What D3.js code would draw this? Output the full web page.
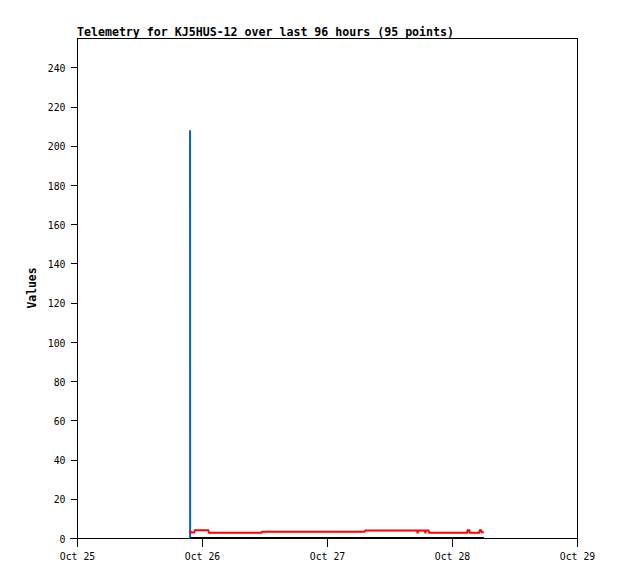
<!DOCTYPE html>
<html>
<head>
<meta charset="utf-8">
<style>
  body { margin: 0; background: #fff; }
  text { font-family: "DejaVu Sans Mono", "Liberation Mono", monospace; }
</style>
</head>
<body>
<svg id="chart" width="618" height="579"></svg>
<script src="https://d3js.org/d3.v7.min.js"></script>
<script>
    // hours since Oct 25 00:00
    const title = "Telemetry for KJ5HUS-12 over last 96 hours (95 points)";
    const yTicks = [0, 20, 40, 60, 80, 100, 120, 140, 160, 180, 200, 220, 240];
    const xTickLabels = ["Oct 25", "Oct 26", "Oct 27", "Oct 28", "Oct 29"];

    const blueHours = [21.7, 21.72, 78.1];
    const blueValues = [208, 0, 0];

    const redHours = [21.7, 21.85, 22.5, 22.65, 25.2, 25.35, 35.4, 35.55, 55.2, 55.35,
        65.3, 65.4, 65.5, 66.8, 66.9, 67.0, 67.5, 67.65, 74.9, 75.0, 75.3, 75.4,
        77.2, 77.35, 77.6, 77.7, 78.1];
    const redValues = [4.0, 2.8, 2.8, 4.0, 4.0, 2.7, 2.7, 3.2, 3.2, 3.8,
        3.8, 2.4, 3.8, 3.8, 2.4, 3.8, 3.8, 2.7, 2.7, 3.9, 3.9, 2.7,
        2.7, 3.9, 3.9, 2.9, 2.9];

    const blackHours = [21.7, 78.1];
    const blackValues = [0, 0];

    const plotLeft = 77, plotRight = 577, plotTop = 38, plotBottom = 538;
    const svg = d3.select("#chart");

    const x = d3.scaleLinear().domain([0, 96]).range([plotLeft, plotRight]);
    const y = d3.scaleLinear().domain([0, 255]).range([plotBottom, plotTop]);

    // frame
    svg.append("rect")
        .attr("x", plotLeft + 0.5).attr("y", plotTop + 0.5)
        .attr("width", plotRight - plotLeft).attr("height", plotBottom - plotTop)
        .attr("fill", "none").attr("stroke", "#000").attr("stroke-width", 1)
        .attr("shape-rendering", "crispEdges");

    // y axis
    const yAxis = d3.axisLeft(y).tickValues(yTicks).tickSize(7).tickPadding(5);
    const gy = svg.append("g").attr("transform", `translate(${plotLeft + 0.5},0)`).call(yAxis);
    gy.select(".domain").remove();
    gy.selectAll("line").attr("shape-rendering", "crispEdges");
    gy.selectAll("text").attr("font-size", "9.8px").attr("dy", "0.42em")
        .attr("font-family", "'DejaVu Sans Mono', monospace");

    // x axis
    const xAxis = d3.axisBottom(x).tickValues([0, 24, 48, 72, 96])
        .tickFormat((d, i) => xTickLabels[i]).tickSize(8).tickPadding(7);
    const gx = svg.append("g").attr("transform", `translate(0,${plotBottom + 0.5})`).call(xAxis);
    gx.select(".domain").remove();
    gx.selectAll("line").attr("shape-rendering", "crispEdges");
    gx.selectAll("text").attr("font-size", "9.8px")
        .attr("font-family", "'DejaVu Sans Mono', monospace");

    // axis baseline extends past the y tick
    svg.append("line")
        .attr("x1", plotLeft - 7).attr("x2", plotRight)
        .attr("y1", plotBottom + 0.5).attr("y2", plotBottom + 0.5)
        .attr("stroke", "#000").attr("shape-rendering", "crispEdges");

    const line = d3.line().x(d => x(d[0])).y(d => y(d[1]));

    function series(hours, values, color) {
        svg.append("path")
            .datum(hours.map((h, i) => [h, values[i]]))
            .attr("d", line)
            .attr("fill", "none")
            .attr("stroke", color)
            .attr("stroke-width", 2);
    }
    series(blueHours, blueValues, "#0066cc");
    series(redHours, redValues, "#ff0000");
    series(blackHours, blackValues, "#000000");

    // title and y label
    svg.append("text")
        .attr("x", plotLeft).attr("y", 35.5)
        .attr("font-size", "11.6px").attr("font-weight", "bold")
        .attr("textLength", 377).attr("lengthAdjust", "spacing")
        .text(title);

    svg.append("text")
        .attr("transform", "translate(36,288) rotate(-90)")
        .attr("text-anchor", "middle")
        .attr("font-size", "11.4px").attr("font-weight", "bold")
        .text("Values");
</script>
</body>
</html>
